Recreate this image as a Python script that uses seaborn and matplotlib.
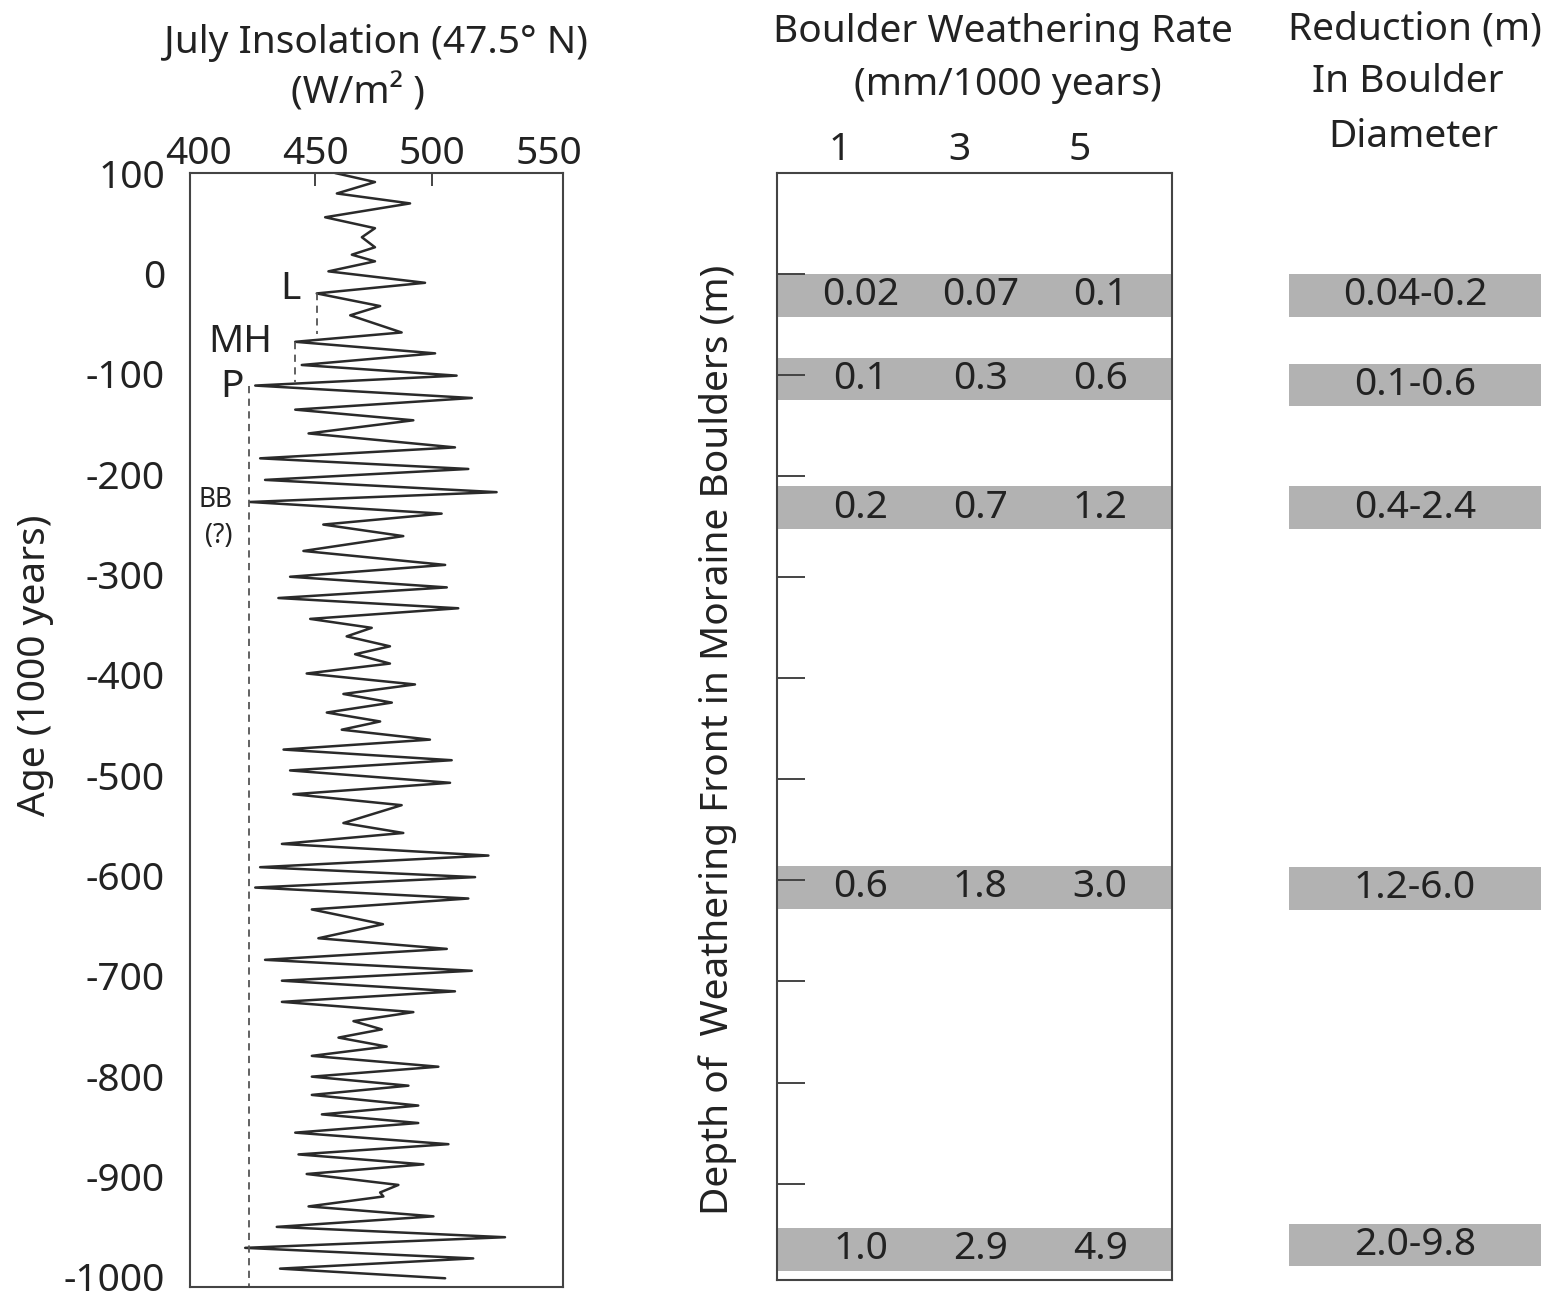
import seaborn as sns
import matplotlib.pyplot as plt

# July insolation at 47.5 N, read as the turning points of the curve
ages = [100, 91, 79.6, 69.7, 55.9, 45, 36, 26, 18.6, 12, 2, -9.4, -20, -32.6, -41.8,
        -58.9, -68.2, -79.7, -91.3, -101.9, -111.8, -124.2, -135.8, -146.4, -159.5,
        -173.4, -184.3, -194.9, -205.8, -218, -227.8, -239.4, -250.3, -261.8, -276.6,
        -290.5, -302.3, -312.9, -323.5, -333.7, -344.3, -353.2, -361.7, -371.6, -379.5,
        -388.8, -398.7, -409.6, -419.1, -427.7, -437.6, -446.5, -454.7, -464.6, -474.5,
        -485.1, -495.3, -507.6, -519, -529.9, -547.7, -557.6, -568.5, -580.1, -591.7,
        -601.6, -612, -622.9, -633.8, -648.5, -662.5, -673.1, -684, -694.9, -704.8,
        -715.4, -725.9, -736.1, -745.1, -753.3, -761.5, -770.4, -779.7, -790.5, -800.4,
        -809.4, -818.6, -829.2, -838, -846.6, -856.2, -867.7, -877.9, -887.8, -897.4,
        -908.3, -915.8, -919.8, -929.7, -939.6, -950.1, -960.4, -971, -981.5, -991.7,
        -1001.3]
insolation = [458.5, 475.6, 459.3, 490.6, 454.3, 475.6, 470, 475.6, 465.7, 475.6, 455.7,
              497, 450.7, 477.8, 465, 487, 441.5, 501.3, 444.3, 510.5, 424.4, 517, 441.5,
              492, 447.2, 509.8, 426.5, 515.5, 428.6, 527.6, 422.2, 504.1, 453.5, 487.7,
              445, 505.6, 439.3, 506.3, 434.3, 511.2, 447.9, 474.2, 463.5, 482, 467.1, 482,
              446.4, 492.7, 462.1, 482.8, 455, 477.8, 461.4, 499.1, 436.5, 508.4, 439.3,
              507.7, 440.7, 487, 462.1, 487.7, 435.8, 524.1, 426.5, 518.4, 424.4, 515.5,
              448.6, 479, 451.4, 506.3, 428.6, 517, 435.8, 509.8, 435.8, 492, 466.4, 478.5,
              460, 480.6, 448.6, 502.7, 448.6, 489.9, 448.6, 494.1, 452.9, 494.1, 441.5,
              507, 442.9, 496.3, 446.4, 485.6, 477.8, 479.2, 447.2, 500.6, 433.6, 531.2,
              420.1, 517.6, 435, 505.6]

# moraine markers: label, insolation of the dashed line, dashed from / to (age)
moraines = ["L", "MH", "P"]
moraine_x = [450.7, 441.5, 421.8]
moraine_top = [-20, -68.2, -111.8]
moraine_bottom = [-60, -108, -1010]

# weathering front depth (m) for 1, 3 and 5 mm/1000 yr
rates = [1, 3, 5]
band_age = [-21, -104, -231, -607, -965]
depth_rate1 = ["0.02", "0.1", "0.2", "0.6", "1.0"]
depth_rate3 = ["0.07", "0.3", "0.7", "1.8", "2.9"]
depth_rate5 = ["0.1", "0.6", "1.2", "3.0", "4.9"]

reduction_age = [-21, -110, -231, -608, -961]
reduction = ["0.04-0.2", "0.1-0.6", "0.4-2.4", "1.2-6.0", "2.0-9.8"]

sns.set_theme(style="white")
plt.rcParams['font.family'] = ['Noto Sans', 'DejaVu Sans']
plt.rcParams['axes.unicode_minus'] = False
fs = 28
ink = "#222222"
band_grey = "#b2b2b2"

W, H = 1554, 1299
fig = plt.figure(figsize=(W / 100, H / 100), dpi=100)

def box(x0, y0, x1, y1):
    return [x0 / W, 1 - y1 / H, (x1 - x0) / W, (y1 - y0) / H]

# ---- insolation panel
ax1 = fig.add_axes(box(190, 173, 563, 1287))
sns.lineplot(x=insolation, y=ages, sort=False, estimator=None, color="#2a2a2a", lw=1.8, ax=ax1)
ax1.set_xlim(396.5, 556)
ax1.set_ylim(-1010, 100)
ax1.set_xticks([400, 450, 500, 550])
ax1.set_yticks(range(-1000, 101, 100))
ax1.xaxis.tick_top()
ax1.tick_params(axis='x', direction='in', length=9, width=1.4, color='#444444',
                labelsize=fs, pad=0, labelcolor=ink)
ax1.tick_params(axis='y', direction='in', length=18, width=1.4, color='#444444',
                labelsize=fs, pad=18, labelcolor=ink)
# only the inner two ticks show a mark at the top
for i in (0, 3):
    ax1.xaxis.get_major_ticks()[i].tick2line.set_visible(False)
for s in ax1.spines.values():
    s.set_color('#444444')
    s.set_linewidth(1.5)

for name, mx, top, bot in zip(moraines, moraine_x, moraine_top, moraine_bottom):
    ax1.plot([mx, mx], [top, bot], color='#555555', lw=1.3, ls=(0, (4, 3)))
ax1.text(439.3, -16, "L", fontsize=fs, ha='center', va='center', color=ink)
ax1.text(418, -68, "MH", fontsize=fs, ha='center', va='center', color=ink)
ax1.text(414.5, -113, "P", fontsize=fs, ha='center', va='center', color=ink)
ax1.text(407.5, -226, "BB", fontsize=19, ha='center', va='center', color=ink)
ax1.text(409, -262, "(?)", fontsize=19, ha='center', va='center', color=ink)

fig.text(376 / W, 1 - 43 / H, "July Insolation (47.5° N)", fontsize=fs,
         ha='center', va='center', color=ink)
fig.text(358 / W, 1 - 93 / H, "(W/m² )", fontsize=fs, ha='center', va='center', color=ink)
fig.text(35 / W, 1 - 665 / H, "Age (1000 years)", fontsize=fs, rotation=90,
         ha='center', va='center', color=ink)

# ---- weathering rate panel
ax2 = fig.add_axes(box(777, 173, 1172, 1280))
ax2.set_xlim(-0.05, 6.55)
ax2.set_ylim(-995.4, 100)
for a in band_age:
    ax2.axhspan(a - 21, a + 21, color=band_grey, lw=0, zorder=0)
for rate, col in zip(rates, [depth_rate1, depth_rate3, depth_rate5]):
    for a, txt in zip(band_age, col):
        ax2.text(rate + 0.35, a, txt, fontsize=fs, ha='center', va='center', color=ink)
ax2.set_xticks(rates)
ax2.xaxis.tick_top()
ax2.set_yticks(range(-900, 1, 100))
ax2.set_yticklabels([])
ax2.tick_params(axis='x', length=0, labelsize=fs, pad=3, labelcolor=ink)
ax2.tick_params(axis='y', direction='in', length=20, width=1.4, color='#444444', left=True)
for s in ax2.spines.values():
    s.set_color('#444444')
    s.set_linewidth(1.5)

fig.text(1003 / W, 1 - 32 / H, "Boulder Weathering Rate", fontsize=fs,
         ha='center', va='center', color=ink)
fig.text(1008 / W, 1 - 85 / H, "(mm/1000 years)", fontsize=fs,
         ha='center', va='center', color=ink)
fig.text(718 / W, 1 - 740 / H, "Depth of  Weathering Front in Moraine Boulders (m)",
         fontsize=fs, rotation=90, ha='center', va='center', color=ink)

# ---- reduction column
ax3 = fig.add_axes(box(1289, 173, 1541, 1280))
ax3.set_xlim(0, 1)
ax3.set_ylim(-995.4, 100)
ax3.axis('off')
for a, txt in zip(reduction_age, reduction):
    ax3.axhspan(a - 21, a + 21, color=band_grey, lw=0, zorder=0)
    ax3.text(0.5, a, txt, fontsize=fs, ha='center', va='center', color=ink)

fig.text(1415 / W, 1 - 30 / H, "Reduction (m)", fontsize=fs, ha='center', va='center', color=ink)
fig.text(1408 / W, 1 - 82 / H, "In Boulder", fontsize=fs, ha='center', va='center', color=ink)
fig.text(1413 / W, 1 - 137 / H, "Diameter", fontsize=fs, ha='center', va='center', color=ink)

fig.savefig("out.png", dpi=100, facecolor='white')
